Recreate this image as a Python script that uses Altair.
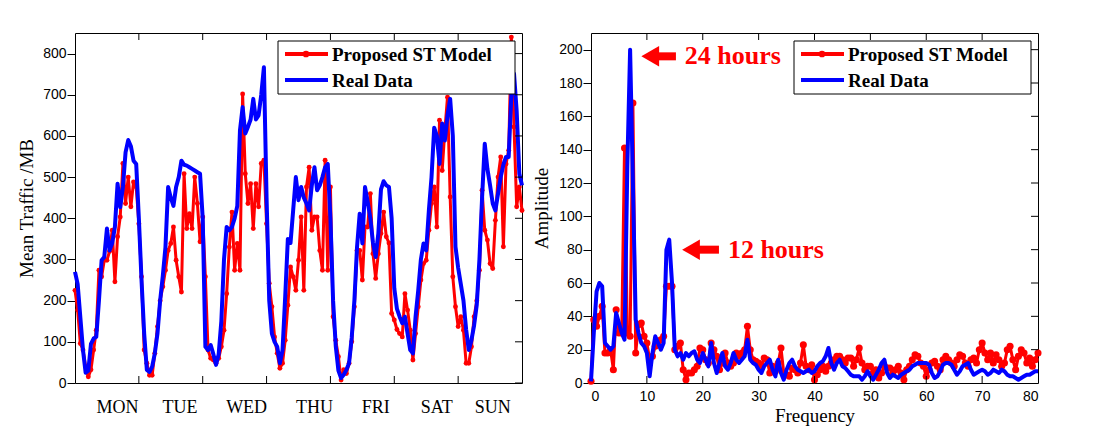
import altair as alt
import pandas as pd

# ---------------- data: left panel (hourly traffic over one week) ----------------
hours = list(range(169))
real_traffic = [
    270, 240, 160, 80, 25, 30, 95, 108, 112, 200, 298, 306, 375, 322, 340, 379, 484, 427, 476, 560,
    590, 575, 540, 532, 400, 250, 120, 32, 27, 40, 72, 120, 200, 260, 330, 476, 450, 430, 476, 500,
    540, 530, 528, 524, 520, 516, 512, 508, 400, 88, 80, 92, 70, 44, 70, 150, 300, 379, 371, 379,
    400, 430, 613, 670, 606, 622, 640, 690, 640, 650, 700, 767, 450, 200, 120, 100, 88, 48, 80, 209,
    350, 340, 420, 500, 444, 476, 450, 436, 419, 480, 524, 468, 480, 500, 524, 532, 400, 200, 90, 30,
    12, 20, 32, 48, 110, 200, 330, 411, 339, 476, 440, 400, 340, 306, 363, 470, 490, 480, 476, 400,
    230, 180, 161, 145, 161, 120, 80, 72, 161, 225, 300, 339, 322, 419, 500, 620, 600, 532, 630, 589,
    650, 690, 600, 331, 280, 240, 200, 130, 80, 104, 140, 190, 300, 450, 581, 520, 480, 436, 419, 460,
    500, 530, 549, 549, 700, 751, 660, 508, 480,
]
model_traffic = [
    225, 177, 96, 80, 40, 15, 32, 80, 128, 274, 258, 298, 298, 320, 371, 246, 355, 403, 533, 436,
    500, 428, 488, 476, 387, 258, 80, 48, 19, 19, 72, 137, 200, 234, 274, 322, 339, 379, 298, 258,
    221, 508, 375, 411, 375, 500, 436, 343, 403, 258, 80, 60, 56, 48, 60, 88, 128, 217, 330, 415,
    274, 339, 274, 702, 508, 436, 484, 375, 484, 428, 533, 541, 387, 242, 185, 112, 72, 36, 48, 104,
    189, 282, 258, 225, 298, 403, 225, 476, 524, 371, 403, 403, 322, 274, 541, 274, 476, 161, 104, 64,
    7, 32, 23, 48, 100, 185, 322, 322, 250, 379, 379, 460, 314, 254, 314, 363, 415, 355, 340, 169,
    153, 130, 120, 112, 217, 177, 128, 56, 120, 185, 250, 290, 298, 371, 436, 476, 379, 638, 516, 613,
    694, 452, 258, 185, 137, 161, 128, 48, 48, 88, 161, 200, 274, 468, 371, 347, 290, 278, 395, 500,
    549, 331, 532, 565, 840, 622, 428, 476, 419,
]
day_labels = ["MON", "TUE", "WED", "THU", "FRI", "SAT", "SUN"]
day_label_hours = [16, 39.5, 64.5, 90, 113, 136, 157]
day_ticks = [24, 48, 72, 96, 120, 144]
traffic_ticks = [0, 100, 200, 300, 400, 500, 600, 700, 800]

# ---------------- data: right panel (spectrum) ----------------
freq = [i * 0.5 for i in range(161)]
real_amp = [
    1, 30, 55, 60, 58, 24, 22, 20, 22, 42, 36, 30, 26, 130, 200, 120, 38, 30, 24, 22,
    18, 4, 18, 28, 24, 20, 24, 80, 86, 60, 20, 16, 18, 14, 18, 16, 18, 19, 14, 12,
    18, 14, 10, 24, 12, 6, 12, 18, 10, 8, 12, 18, 14, 12, 14, 16, 26, 14, 12, 11,
    8, 6, 10, 12, 14, 8, 4, 14, 6, 2, 8, 12, 14, 10, 8, 7, 6, 7, 8, 6,
    7, 10, 12, 13, 16, 21, 12, 8, 12, 14, 10, 9, 7, 5, 4, 4, 4, 2, 4, 7,
    4, 2, 5, 8, 12, 14, 6, 3, 5, 4, 3, 5, 6, 7, 8, 10, 11, 12, 12, 12,
    12, 11, 6, 3, 4, 7, 11, 12, 12, 11, 8, 5, 7, 10, 11, 12, 8, 5, 6, 7,
    8, 7, 5, 6, 8, 7, 6, 8, 7, 5, 4, 4, 3, 2, 3, 4, 5, 5, 6, 7,
    7,
]
model_amp = [
    1, 38, 34, 40, 46, 18, 18, 20, 8, 44, 30, 30, 141, 30, 28, 168, 18, 35, 36, 28,
    24, 14, 16, 22, 24, 26, 28, 58, 58, 58, 20, 22, 24, 8, 2, 6, 6, 8, 10, 21,
    20, 14, 12, 24, 20, 16, 8, 12, 18, 12, 10, 12, 18, 16, 18, 20, 34, 20, 14, 13,
    12, 10, 15, 14, 6, 10, 7, 12, 21, 6, 5, 4, 9, 8, 6, 12, 23, 10, 8, 11,
    2, 5, 8, 10, 7, 10, 12, 14, 16, 16, 14, 12, 15, 15, 10, 14, 21, 12, 8, 10,
    10, 6, 8, 3, 6, 10, 9, 9, 6, 8, 10, 6, 2, 8, 10, 14, 17, 16, 12, 10,
    4, 8, 12, 13, 10, 8, 14, 16, 14, 12, 10, 14, 17, 16, 12, 10, 14, 15, 12, 20,
    24, 18, 14, 18, 12, 17, 14, 10, 12, 20, 22, 14, 8, 16, 20, 18, 12, 15, 10, 14,
    18,
]
freq_ticks = [0, 10, 20, 30, 40, 50, 60, 70, 80]
amp_ticks = [0, 20, 40, 60, 80, 100, 120, 140, 160, 180, 200]

# annotations (data coordinates of the right panel)
ann_text = ["24 hours", "12 hours"]
ann_y = [196, 80]
ann_head_x = [10.6, 17.9]
ann_shaft_x1 = [11.5, 18.8]
ann_shaft_x2 = [15.2, 22.9]
ann_text_x = [16.8, 24.5]

RED = "#ff0000"
BLUE = "#0000ff"
W, H = 447, 350
SERIF = "Liberation Serif"
SANS = "Liberation Sans"

one = pd.DataFrame({"k": [0]})


def legend_layers():
    box = alt.Chart(one).mark_rect(fill="white", stroke="black", strokeWidth=1).encode(
        x=alt.value(203), x2=alt.value(440), y=alt.value(8), y2=alt.value(61))
    rl = alt.Chart(one).mark_rule(color=RED, strokeWidth=4).encode(
        x=alt.value(210), x2=alt.value(253), y=alt.value(21))
    rp = alt.Chart(one).mark_point(color=RED, filled=True, opacity=1, size=45).encode(
        x=alt.value(231), y=alt.value(21))
    bl = alt.Chart(one).mark_rule(color=BLUE, strokeWidth=4).encode(
        x=alt.value(210), x2=alt.value(253), y=alt.value(47))
    t1 = alt.Chart(one).mark_text(align="left", baseline="middle", font=SERIF, fontWeight="bold",
                                  fontSize=19, color="black").encode(
        x=alt.value(257), y=alt.value(22), text=alt.value("Proposed ST Model"))
    t2 = alt.Chart(one).mark_text(align="left", baseline="middle", font=SERIF, fontWeight="bold",
                                  fontSize=19, color="black").encode(
        x=alt.value(257), y=alt.value(48), text=alt.value("Real Data"))
    return [box, rl, rp, bl, t1, t2]


# ---------------- left panel ----------------
left_df = pd.DataFrame({
    "hour": hours * 2,
    "value": model_traffic + real_traffic,
    "series": ["model"] * len(hours) + ["real"] * len(hours),
})
xl = alt.X("hour:Q", scale=alt.Scale(domain=[0, 168], nice=False, zero=False),
           axis=alt.Axis(values=day_ticks, labels=False, ticks=False, title=None))
yl = alt.Y("value:Q", scale=alt.Scale(domain=[0, 850], nice=False),
           axis=alt.Axis(values=traffic_ticks, title="Mean Traffic /MB", tickSize=8,
                         labelPadding=1, titlePadding=6))

red_left = alt.Chart(left_df).transform_filter(alt.datum.series == "model").mark_line(
    color=RED, strokeWidth=3, strokeJoin="round",
    point=alt.OverlayMarkDef(color=RED, filled=True, size=24, opacity=1)).encode(x=xl, y=yl)
blue_left = alt.Chart(left_df).transform_filter(alt.datum.series == "real").mark_line(
    color=BLUE, strokeWidth=4, strokeJoin="round").encode(x=xl, y=yl)

xt_df = pd.DataFrame({"hour": day_ticks})
yt_df = pd.DataFrame({"value": traffic_ticks})
ticks_bottom_l = alt.Chart(xt_df).mark_rule(color="black").encode(
    x=xl, y=alt.value(H), y2=alt.value(H - 7))
ticks_top_l = alt.Chart(xt_df).mark_rule(color="black").encode(
    x=xl, y=alt.value(0), y2=alt.value(7))
ticks_right_l = alt.Chart(yt_df).mark_rule(color="black").encode(
    y=yl, x=alt.value(W), x2=alt.value(W - 7))

day_df = pd.DataFrame({"hour": day_label_hours, "day": day_labels})
day_text = alt.Chart(day_df).mark_text(font=SERIF, fontSize=18, baseline="middle", color="black").encode(
    x=xl, y=alt.value(H + 25), text="day:N")

left = alt.layer(red_left, blue_left, ticks_bottom_l, ticks_top_l, ticks_right_l, day_text,
                 *legend_layers()).properties(width=W, height=H)

# ---------------- right panel ----------------
right_df = pd.DataFrame({
    "freq": freq * 2,
    "amp": model_amp + real_amp,
    "series": ["model"] * len(freq) + ["real"] * len(freq),
})
xr = alt.X("freq:Q", scale=alt.Scale(domain=[0, 80], nice=False),
           axis=alt.Axis(values=freq_ticks, title="Frequency", ticks=False, labelPadding=6,
                         titlePadding=3, format="d"))
yr = alt.Y("amp:Q", scale=alt.Scale(domain=[0, 210], nice=False),
           axis=alt.Axis(values=amp_ticks, title="Amplitude", tickSize=8, labelPadding=1,
                         titlePadding=7))

red_right = alt.Chart(right_df).transform_filter(alt.datum.series == "model").mark_line(
    color=RED, strokeWidth=3, strokeJoin="round",
    point=alt.OverlayMarkDef(color=RED, filled=True, size=50, opacity=1)).encode(x=xr, y=yr)
blue_right = alt.Chart(right_df).transform_filter(alt.datum.series == "real").mark_line(
    color=BLUE, strokeWidth=4, strokeJoin="round").encode(x=xr, y=yr)

fx_df = pd.DataFrame({"freq": freq_ticks[1:-1]})
fy_df = pd.DataFrame({"amp": amp_ticks[1:]})
ticks_bottom_r = alt.Chart(fx_df).mark_rule(color="black").encode(
    x=xr, y=alt.value(H), y2=alt.value(H - 7))
ticks_top_r = alt.Chart(fx_df).mark_rule(color="black").encode(
    x=xr, y=alt.value(0), y2=alt.value(7))
ticks_right_r = alt.Chart(fy_df).mark_rule(color="black").encode(
    y=yr, x=alt.value(W), x2=alt.value(W - 7))

shaft_df = pd.DataFrame({"freq": ann_shaft_x1, "freq_end": ann_shaft_x2, "amp": ann_y})
head_df = pd.DataFrame({"freq": ann_head_x, "amp": ann_y})
label_df = pd.DataFrame({"freq": ann_text_x, "amp": ann_y, "text": ann_text})
ann_shaft = alt.Chart(shaft_df).mark_rule(color=RED, strokeWidth=8).encode(
    x=xr, x2="freq_end:Q", y=yr)
ann_head = alt.Chart(head_df).mark_point(shape="triangle-left", filled=True, color=RED,
                                          opacity=1, size=420).encode(x=xr, y=yr)
ann_label = alt.Chart(label_df).mark_text(align="left", baseline="middle", font=SERIF,
                                           fontWeight="bold", fontSize=26, color=RED).encode(
    x=xr, y=yr, text="text:N")

right = alt.layer(red_right, blue_right, ticks_bottom_r, ticks_top_r, ticks_right_r,
                  ann_shaft, ann_head, ann_label, *legend_layers()).properties(width=W, height=H)

chart = alt.hconcat(left, right, spacing=7).properties(
    padding={"left": 17, "top": 32, "right": 5, "bottom": 5},
    background="white",
).configure_view(stroke="black", strokeWidth=1).configure_axis(
    grid=False, domain=False, labelFont=SANS, labelFontSize=14, labelColor="black",
    titleFont=SERIF, titleFontSize=19, titleFontWeight="normal", titleColor="black",
    tickColor="black",
)

chart.save("out.html", embed_options={"renderer": "svg", "actions": False})
